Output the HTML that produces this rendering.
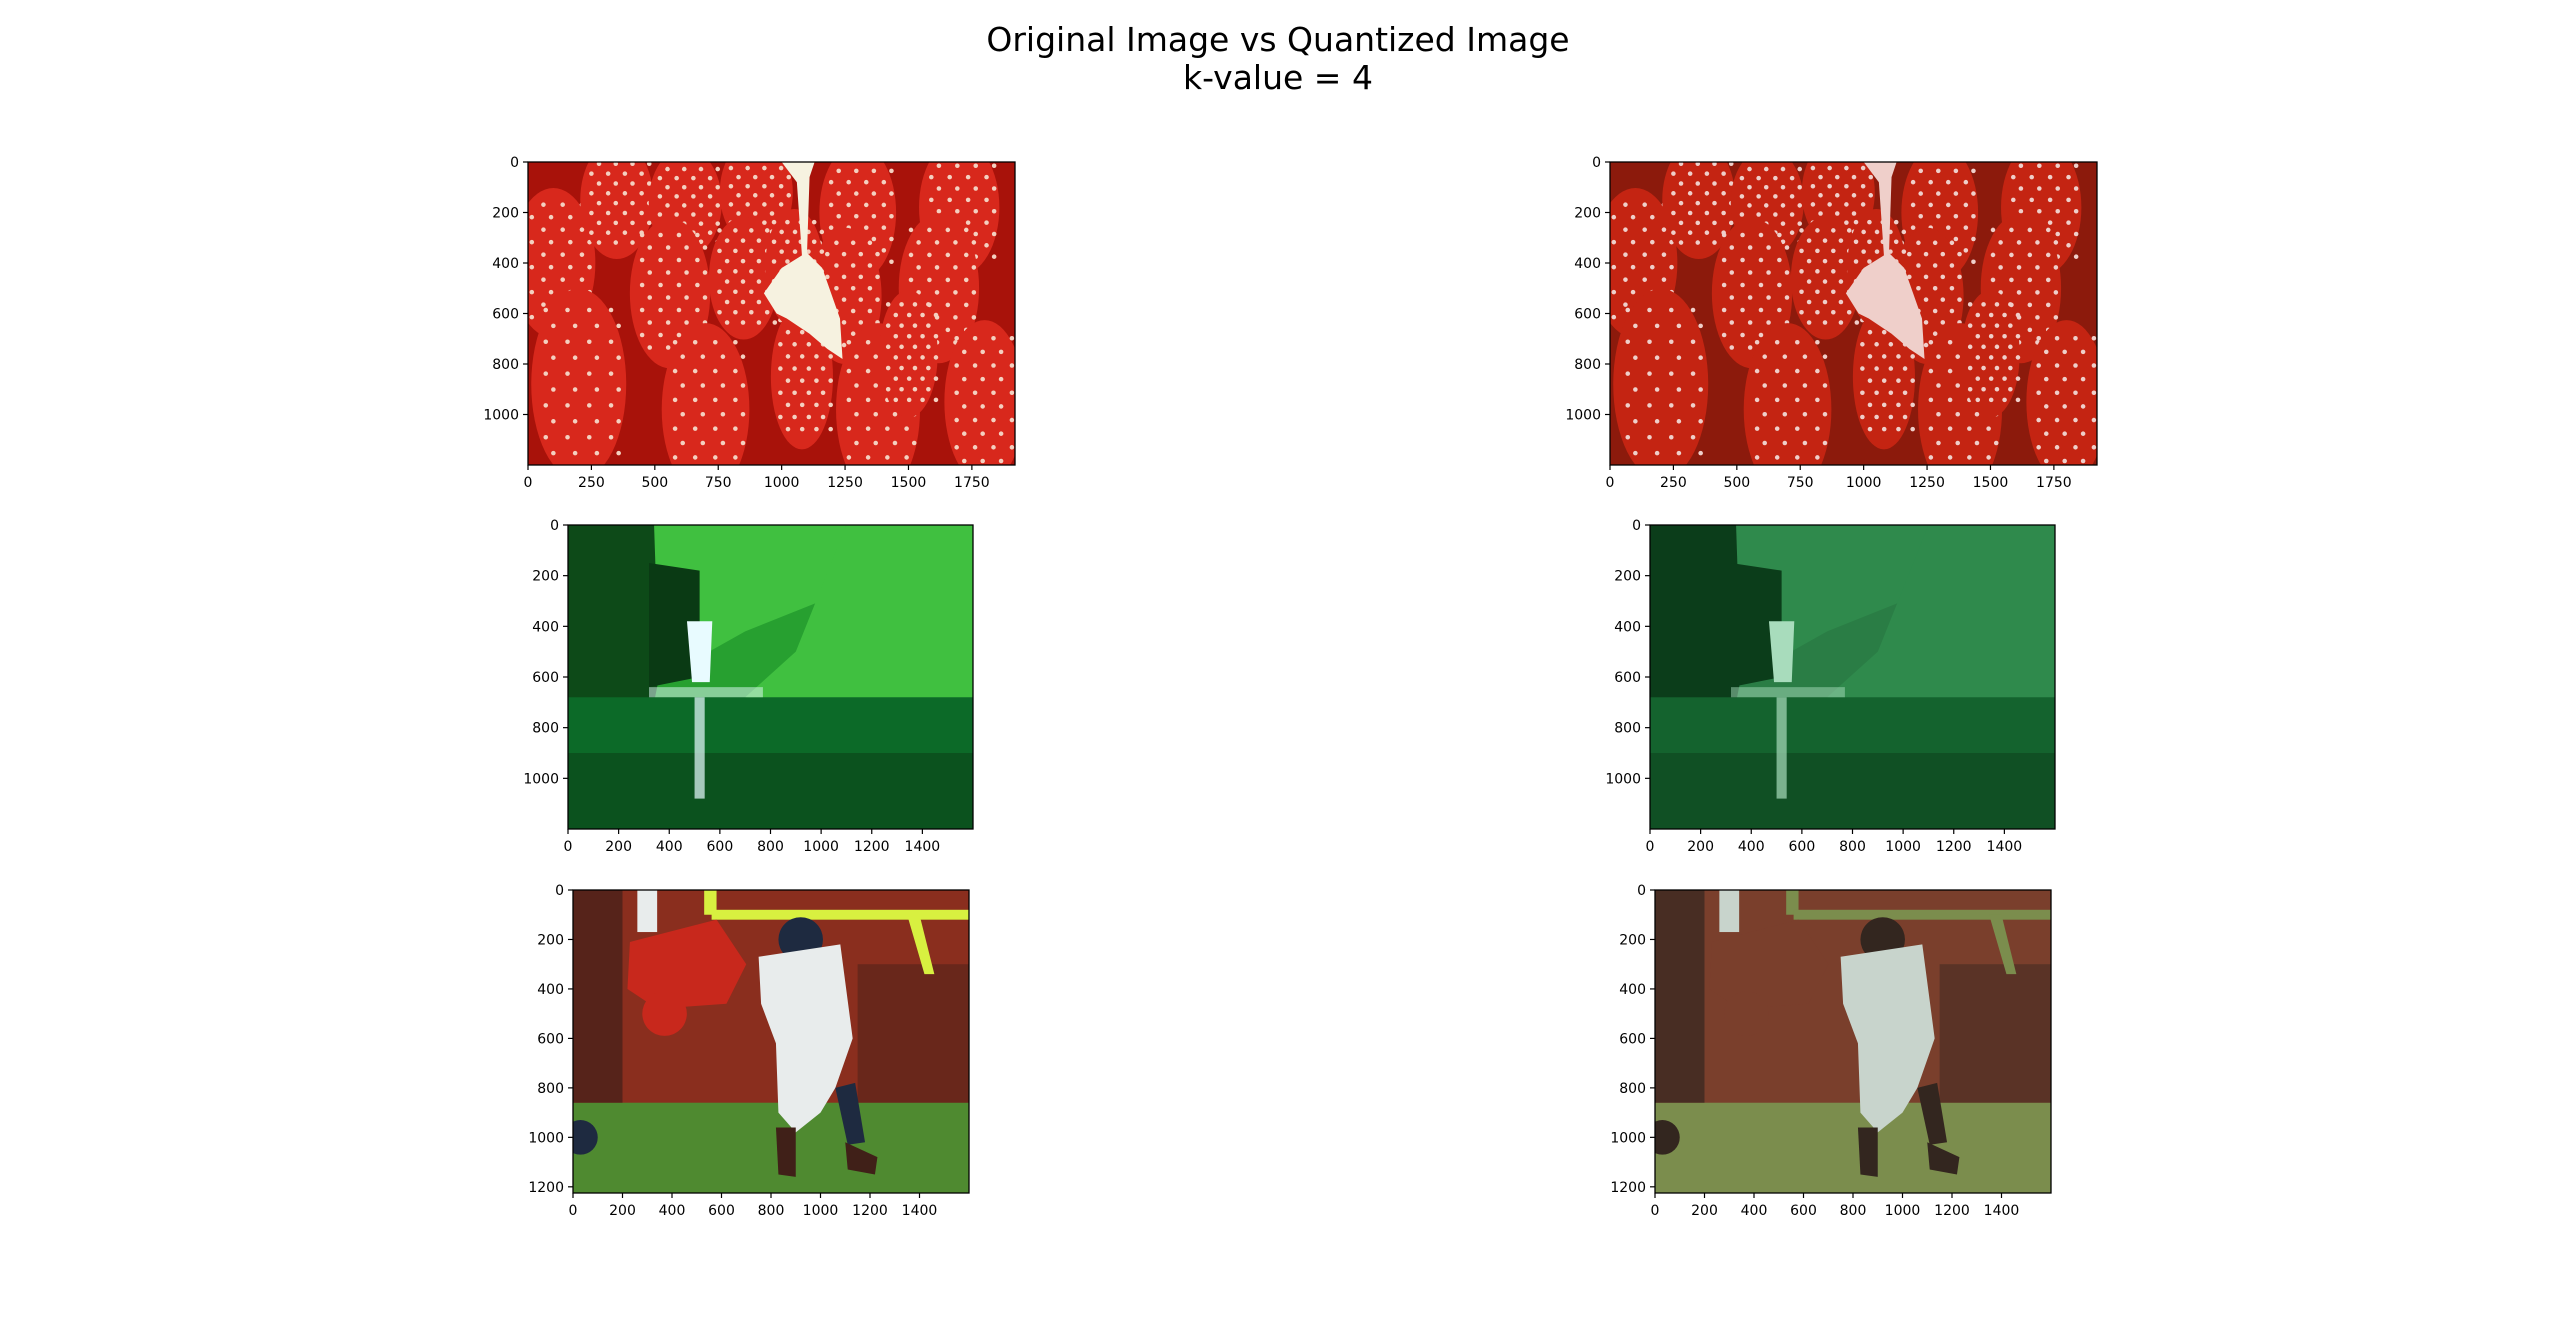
<!DOCTYPE html>
<html><head><meta charset="utf-8"><style>
html,body{margin:0;padding:0;background:#fff;}
body{width:2560px;height:1341px;position:relative;overflow:hidden;font-family:"DejaVu Sans","Liberation Sans",sans-serif;}
.t{position:absolute;left:0;width:2556px;text-align:center;font-size:33px;line-height:38px;color:#000;}
svg text{font-family:"DejaVu Sans","Liberation Sans",sans-serif;font-size:14px;fill:#000;}
</style></head><body>
<div class="t" style="top:21px;">Original Image vs Quantized Image</div>
<div class="t" style="top:59px;">k-value = 4</div>
<svg id="fig" width="2560" height="1341" style="position:absolute;left:0;top:0"></svg>
<script>
const imgWidths=[1920,1600,1600];
const imgHeights=[1200,1200,1225];
const xTicksStraw=[0,250,500,750,1000,1250,1500,1750];
const xTicksOther=[0,200,400,600,800,1000,1200,1400];
const yTicksStraw=[0,200,400,600,800,1000];
const yTicksWater=[0,200,400,600,800,1000];
const yTicksFoot=[0,200,400,600,800,1000,1200];
const rowNames=['strawberry','waterfall','football'];
const colNames=['original','quantized'];

const NS='http://www.w3.org/2000/svg';
const fig=document.getElementById('fig');
function mk(tag,attrs,parent){const e=document.createElementNS(NS,tag);for(const k in attrs)e.setAttribute(k,attrs[k]);(parent||fig).appendChild(e);return e;}

const boxes=[[528,162,487,303],[568,525,405,304],[573,890,396,303]];
const colOffset=[0,1082];
const xt=[xTicksStraw,xTicksOther,xTicksOther];
const yt=[yTicksStraw,yTicksWater,yTicksFoot];

const pal={
 strawberry:[{bg:'#a8120a',fr:'#d8281c',hi:'#f06050',cr:'#f6f2e0',seed:'#f4d0c0'},{bg:'#8c1a0c',fr:'#c42412',hi:'#d9665c',cr:'#efcfca',seed:'#efcfca'}],
 waterfall:[{a:'#0d4a18',b:'#27a030',c:'#40c040',w:'#0c6a28',d:'#0a3a14',f:'#e8fbff'},{a:'#0b3d1a',b:'#2a7d45',c:'#2f8a4c',w:'#14632e',d:'#0b3d1a',f:'#a8dcbc'}],
 football:[{bg:'#8a2e1e',dk:'#402018',g:'#4f8a30',w:'#e8ecec',r:'#c8281c',y:'#d8f040',n:'#1e2a40'},{bg:'#7a3f2c',dk:'#33261f',g:'#7b8d4d',w:'#c8d4cc',r:'#7a3f2c',y:'#7b8d4d',n:'#33261f'}]
};

function drawScene(g,row,col){
 const W=imgWidths[row],H=imgHeights[row];const p=pal[rowNames[row]][col];
 if(row===0){
  mk('rect',{x:0,y:0,width:W,height:H,fill:p.bg},g);
  const berries=[[100,400,230,330],[350,150,200,260],[620,160,200,240],[900,120,200,240],[1300,200,210,300],[1700,180,220,300],[200,880,260,420],[560,520,220,330],[850,460,190,270],[1250,530,200,300],[1620,500,220,330],[700,980,240,380],[1080,850,170,320],[1380,980,230,380],[1800,950,220,360],[1050,420,160,260],[1500,760,160,280]];
  berries.forEach(b=>{mk('ellipse',{cx:b[0],cy:b[1],rx:b[2]*0.72,ry:b[3]*0.9,fill:p.fr},g);
   for(let i=0;i<10;i++){for(let j=0;j<4;j++){mk('circle',{cx:b[0]-b[2]*0.5+j*b[2]*0.33+(i%2)*30,cy:b[1]-b[3]*0.7+i*b[3]*0.15,r:9,fill:p.seed},g);}}
  });
  mk('path',{d:'M1000 0 L1130 0 L1110 60 L1100 360 L1160 420 L1230 620 L1240 780 L1180 740 L1110 680 L1020 620 L980 600 L930 520 L1000 420 L1080 370 L1060 80 Z',fill:p.cr},g);
 } else if(row===1){
  mk('rect',{x:0,y:0,width:W,height:H,fill:p.w},g);
  mk('rect',{x:0,y:0,width:W,height:680,fill:p.b},g);
  mk('path',{d:'M320 0 L1100 0 L1000 300 L700 420 L450 560 L320 560 Z',fill:p.c},g);
  mk('path',{d:'M1100 0 L1600 0 L1600 740 L700 680 L900 500 Z',fill:p.c},g);
  mk('path',{d:'M0 0 L340 0 L360 600 L300 900 L0 960 Z',fill:p.a},g);
  mk('path',{d:'M320 150 L520 180 L520 600 L320 640 Z',fill:p.d},g);
  mk('rect',{x:0,y:680,width:W,height:520,fill:p.w},g);
  mk('rect',{x:0,y:900,width:W,height:300,fill:p.d,opacity:0.5},g);
  mk('path',{d:'M470 380 L570 380 L560 620 L490 620 Z',fill:p.f},g);
  mk('rect',{x:500,y:680,width:40,height:400,fill:p.f,opacity:0.7},g);
  mk('rect',{x:320,y:640,width:450,height:40,fill:p.f,opacity:0.5},g);
 } else {
  mk('rect',{x:0,y:0,width:W,height:H,fill:p.bg},g);
  mk('rect',{x:0,y:860,width:W,height:365,fill:p.g},g);
  mk('rect',{x:0,y:0,width:200,height:860,fill:p.dk,opacity:0.7},g);
  mk('rect',{x:1150,y:300,width:450,height:560,fill:p.dk,opacity:0.45},g);
  mk('rect',{x:530,y:0,width:50,height:100,fill:p.y},g);
  mk('rect',{x:560,y:80,width:1040,height:40,fill:p.y},g);
  mk('path',{d:'M1350 100 L1400 100 L1460 340 L1420 340 Z',fill:p.y},g);
  mk('path',{d:'M230 210 L580 120 L700 300 L620 460 L340 480 L220 400 Z',fill:p.r},g);
  mk('rect',{x:260,y:0,width:80,height:170,fill:p.w},g);
  mk('circle',{cx:370,cy:500,r:90,fill:p.r},g);
  mk('circle',{cx:920,cy:200,r:90,fill:p.n},g);
  mk('path',{d:'M750 270 L1080 220 L1130 600 L1060 800 L1000 900 L900 980 L830 900 L820 620 L760 460 Z',fill:p.w},g);
  mk('path',{d:'M1060 800 L1140 780 L1180 1020 L1110 1030 Z',fill:p.n},g);
  mk('path',{d:'M820 960 L900 960 L900 1160 L830 1150 Z',fill:p.dk},g);
  mk('path',{d:'M1100 1020 L1230 1080 L1220 1150 L1110 1130 Z',fill:p.dk},g);
  mk('circle',{cx:30,cy:1000,r:70,fill:p.n},g);
 }
}

for(let c=0;c<2;c++){
 for(let r=0;r<3;r++){
  const [bx,by,bw,bh]=boxes[r];const L=bx+colOffset[c];
  const sx=v=>L+v*bw/imgWidths[r];
  const sy=v=>by+v*bh/imgHeights[r];
  const ax=mk('g',{});
  
  
  const img=mk('svg',{x:L,y:by,width:bw,height:bh,viewBox:'0 0 '+imgWidths[r]+' '+imgHeights[r],preserveAspectRatio:'none'},ax);
  
  
  drawScene(img,r,c);
  const fr=mk('rect',{x:L,y:by,width:bw,height:bh,fill:'none',stroke:'#000','stroke-width':1.3},ax);
  
  
  xt[r].forEach(v=>{
   const x=sx(v);
   mk('line',{x1:x,y1:by+bh,x2:x,y2:by+bh+5,stroke:'#000','stroke-width':1.2},ax);
   const t=mk('text',{x:x,y:by+bh+22,'text-anchor':'middle'},ax);
   t.textContent=v;
   
   
  });
  yt[r].forEach(v=>{
   const y=sy(v);
   mk('line',{x1:L,y1:y,x2:L-5,y2:y,stroke:'#000','stroke-width':1.2},ax);
   const t=mk('text',{x:L-9,y:y+5,'text-anchor':'end'},ax);
   t.textContent=v;
   
   
  });
 }
}
</script>
</body></html>
